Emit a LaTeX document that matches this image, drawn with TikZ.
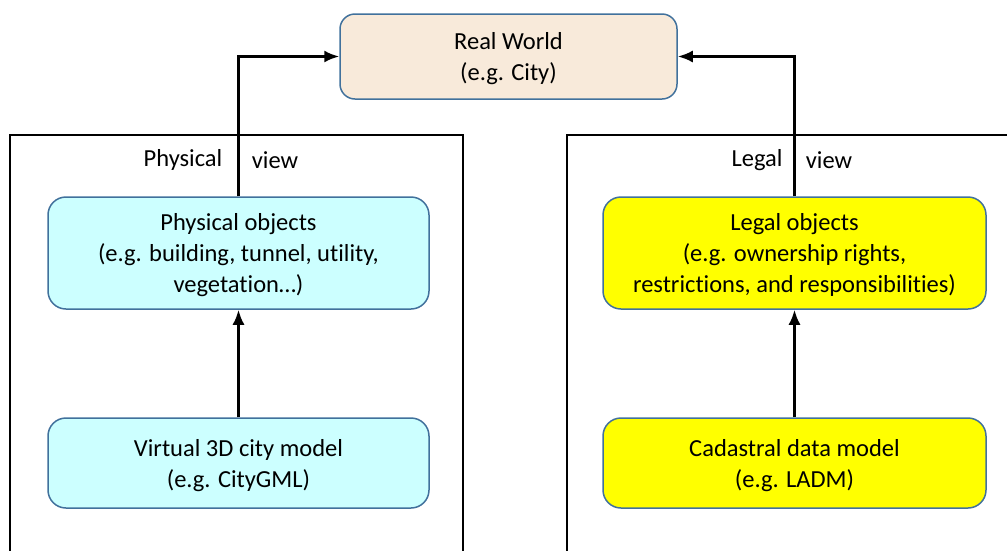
\documentclass[tikz,border=0pt]{standalone}
\usepackage{fontspec}
\setmainfont{Carlito}[Ligatures=NoCommon]
\usetikzlibrary{arrows,arrows.meta,positioning}
\definecolor{boxline}{RGB}{65,113,156}
\definecolor{worldfill}{RGB}{248,234,218}
\definecolor{physfill}{RGB}{204,255,255}
\definecolor{legalfill}{RGB}{255,255,0}

\begin{document}
\begin{tikzpicture}[x=1pt,y=-1pt]
    \tikzstyle{every node}=[font=\fontsize{24.5}{31}\selectfont]
    \tikzstyle{objbox}=[rectangle, rounded corners=18pt, draw=boxline, line width=1.5pt, align=center, minimum width=381pt, minimum height=112pt, inner sep=0pt, text depth=0pt]
    \tikzstyle{viewframe}=[line width=2pt]
    \tikzstyle{link}=[-{Latex[length=15pt,width=12pt]}, line width=2.5pt]
    \clip (0,0) rectangle (1007,550);
    % frames
    \draw[viewframe] (10,560) -- (10,135) -- (463,135) -- (463,560);
    \draw[viewframe] (567,560) -- (567,135) -- (1020,135) -- (1020,560);
    \node(PhysLabel) at (183,160) {Physical};
    \node(PhysView) at (275,160) {view};
    \node(LegalLabel) at (757,160) {Legal};
    \node(LegalView) at (829,160) {view};
    % boxes
    \node(World)[objbox, fill=worldfill, minimum width=337pt, minimum height=85pt, rounded corners=15pt] at (508.5,56.5) {Real World\\(e.g. City)};
    \node(PhysObj)[objbox, fill=physfill] at (238.5,253) {Physical objects\\(e.g. building, tunnel, utility,\\vegetation\dots)};
    \node(CityModel)[objbox, fill=physfill, minimum height=90pt] at (238.5,463) {Virtual 3D city model\\(e.g. CityGML)};
    \node(LegalObj)[objbox, fill=legalfill, minimum width=383pt] at (794.5,253) {Legal objects\\(e.g. ownership rights,\\restrictions, and responsibilities)};
    \node(CadModel)[objbox, fill=legalfill, minimum width=383pt, minimum height=90pt] at (794.5,463) {Cadastral data model\\(e.g. LADM)};
    % links
    \draw[link] (CityModel) -- (PhysObj);
    \draw[link] (CadModel) -- (LegalObj);
    \draw[link] (PhysObj.north) |- (World.west);
    \draw[link] (LegalObj.north) |- (World.east);
\end{tikzpicture}
\end{document}
